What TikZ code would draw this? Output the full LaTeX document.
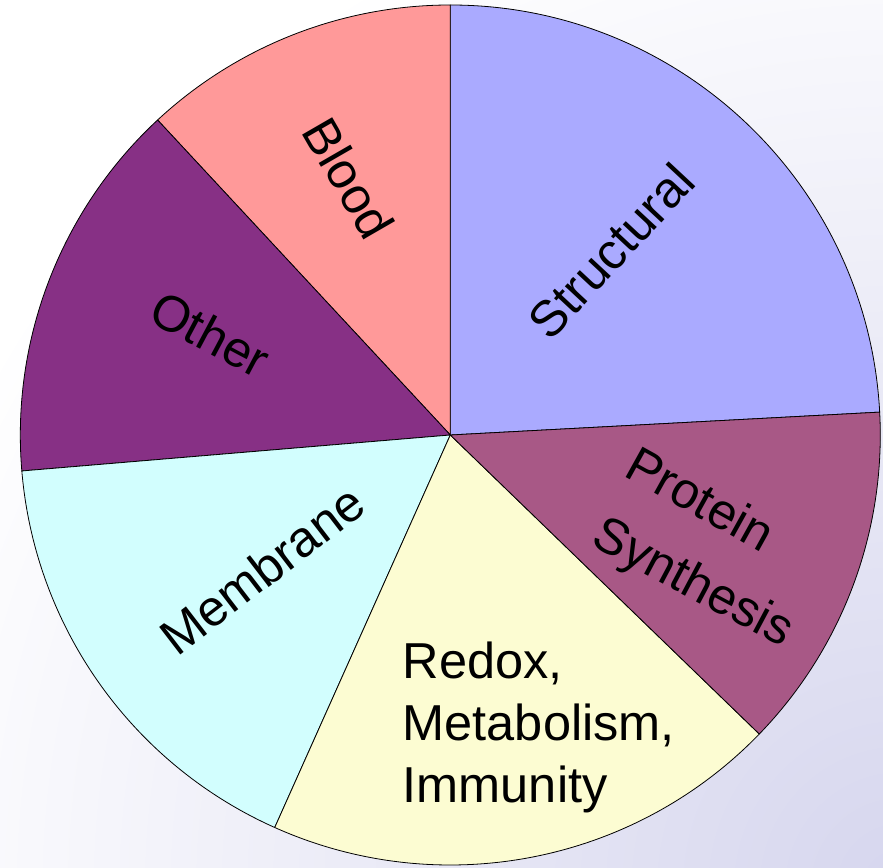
\documentclass[tikz,border=0pt]{standalone}
\usepackage{fontspec}
\setmainfont{Liberation Sans}
\definecolor{cStruct}{RGB}{170,170,255}
\definecolor{cProt}{RGB}{168,88,134}
\definecolor{cRedox}{RGB}{252,252,210}
\definecolor{cMemb}{RGB}{210,254,254}
\definecolor{cOther}{RGB}{135,48,133}
\definecolor{cBlood}{RGB}{255,153,153}
\definecolor{cBack}{RGB}{214,214,238}
\begin{document}
\begin{tikzpicture}[x=1pt,y=1pt,
  slice/.style={draw=black,line width=0.8pt,line join=round},
  lbl/.style={inner sep=0pt,font=\fontsize{50.5}{62}\selectfont,text=black}]
\useasboundingbox (0,0) rectangle (883,867);
\begin{scope}
  \clip (0,0) rectangle (883,867);
  \fill[white] (0,0) rectangle (883,867);
  \shade[inner color=cBack,outer color=white] (900,-20) circle (1050);
\end{scope}
\coordinate (O) at (450.3,432);
\def\R{430}
\draw[slice,fill=cStruct] (O) -- ++(3.05:\R) arc[start angle=3.05,end angle=90,radius=\R] -- cycle;
\draw[slice,fill=cBlood] (O) -- ++(90:\R) arc[start angle=90,end angle=132.9,radius=\R] -- cycle;
\draw[slice,fill=cOther] (O) -- ++(132.9:\R) arc[start angle=132.9,end angle=184.8,radius=\R] -- cycle;
\draw[slice,fill=cMemb] (O) -- ++(184.8:\R) arc[start angle=184.8,end angle=245.9,radius=\R] -- cycle;
\draw[slice,fill=cRedox] (O) -- ++(245.9:\R) arc[start angle=245.9,end angle=315.94,radius=\R] -- cycle;
\draw[slice,fill=cProt] (O) -- ++(315.94:\R) arc[start angle=315.94,end angle=363.05,radius=\R] -- cycle;
\node[lbl,anchor=base,rotate=-60] (blood) at (333,680) {Blood};
\node[lbl,anchor=base,rotate=-28] (other) at (202,517) {Other};
\node[lbl,anchor=base,rotate=47] (struct) at (624,604) {Structural};
\node[lbl,anchor=base,rotate=37.5] (memb) at (273,283) {Membrane};
\node[lbl,anchor=base,rotate=-29] (prot) at (692,353) {Protein};
\node[lbl,anchor=base,rotate=-28] (synth) at (686,271) {Synthesis};
\node[lbl,anchor=base west] (redox) at (402.5,188) {\begin{tabular}[t]{@{}l@{}}Redox,\\Metabolism,\\Immunity\end{tabular}};
\end{tikzpicture}
\end{document}
